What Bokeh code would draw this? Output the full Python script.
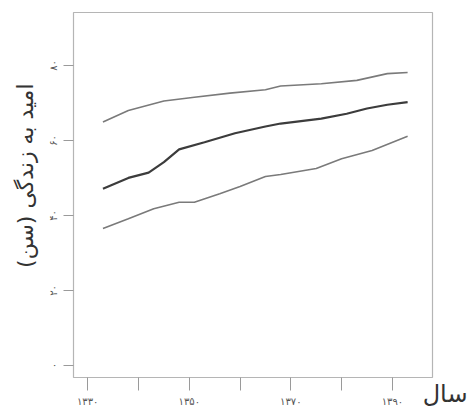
import math
from bokeh.plotting import figure
from bokeh.models import FixedTicker, Range1d, Title
from bokeh.embed import file_html
from bokeh.resources import INLINE

# Data
years_upper = [1333, 1338, 1345, 1351, 1358, 1365, 1368, 1376, 1383, 1389, 1393]
upper = [64.9, 68.0, 70.5, 71.5, 72.6, 73.5, 74.5, 75.1, 76.0, 77.8, 78.1]

years_middle = [1333, 1338, 1342, 1345, 1348, 1353, 1359, 1365, 1368, 1376, 1381, 1385, 1389, 1393]
middle = [47.1, 50.0, 51.4, 54.2, 57.6, 59.5, 61.9, 63.7, 64.5, 65.8, 67.1, 68.5, 69.5, 70.2]

years_lower = [1333, 1338, 1343, 1348, 1351, 1356, 1360, 1365, 1368, 1375, 1380, 1386, 1393]
lower = [36.5, 39.1, 41.8, 43.5, 43.5, 45.8, 47.7, 50.4, 50.9, 52.5, 55.1, 57.3, 61.1]

x_ticks = [1330, 1340, 1350, 1360, 1370, 1380, 1390]
x_tick_labels = ["۱۳۳۰", "", "۱۳۵۰", "", "۱۳۷۰", "", "۱۳۹۰"]
y_ticks = [0, 20, 40, 60, 80]
y_tick_labels = ["۰", "۲۰", "۴۰", "۶۰", "۸۰"]

x_label = "سال"
y_label = "امید به زندگی (سن)"

FONT = "DejaVu Sans"

p = figure(width=468, height=412, output_backend="svg", toolbar_location=None,
           x_range=Range1d(1327.2, 1397.9), y_range=Range1d(-3.2, 94.1),
           min_border_left=73, min_border_right=36, min_border_top=12,
           min_border_bottom=35)
p.background_fill_color = "white"
p.border_fill_color = "white"
p.outline_line_color = "#b5b5b5"
p.outline_line_width = 1.2
p.xgrid.visible = False
p.ygrid.visible = False

p.line(years_upper, upper, line_color="#7a7a7a", line_width=1.6)
p.line(years_middle, middle, line_color="#3c3c3c", line_width=2.2)
p.line(years_lower, lower, line_color="#7a7a7a", line_width=1.6)

for ax in (p.xaxis[0], p.yaxis[0]):
    ax.axis_line_color = None
    ax.major_tick_line_color = "#9a9a9a"
    ax.major_tick_in = 0
    ax.minor_tick_line_color = None
    ax.major_label_text_font = FONT
    ax.major_label_text_font_size = "10px"
    ax.major_label_text_color = "#555555"

p.xaxis.ticker = FixedTicker(ticks=x_ticks)
p.xaxis.major_label_overrides = dict(zip(x_ticks, x_tick_labels))
p.xaxis.major_tick_out = 13
p.xaxis.major_label_standoff = 5

p.yaxis.ticker = FixedTicker(ticks=y_ticks)
p.yaxis.major_label_overrides = dict(zip(y_ticks, y_tick_labels))
p.yaxis.major_tick_out = 10
p.yaxis.major_label_standoff = 4
p.yaxis.major_label_orientation = "vertical"

p.add_layout(Title(text=x_label, text_font=FONT, text_font_size="24px",
                   text_font_style="normal", text_color="#333333",
                   align="right", offset=-35, vertical_align="top",
                   standoff=-60), "below")
p.add_layout(Title(text=y_label, text_font=FONT, text_font_size="22px",
                   text_font_style="normal", text_color="#333333",
                   align="right", offset=71, standoff=16), "left")

open("out.html", "w").write(file_html(p, INLINE))
